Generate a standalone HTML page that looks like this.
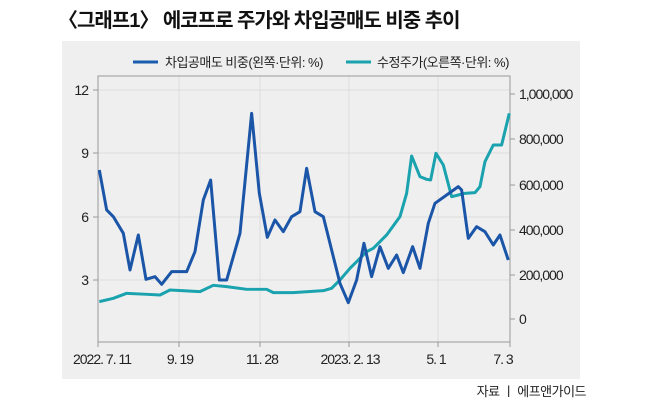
<!DOCTYPE html>
<html><head><meta charset="utf-8"><style>
body{margin:0;background:#fff;width:650px;height:401px;overflow:hidden;font-family:"Liberation Sans","Noto Sans CJK KR",sans-serif}
</style></head><body>
<svg width="650" height="401" xmlns="http://www.w3.org/2000/svg" style="position:absolute;left:0;top:0;font-family:'Liberation Sans','Noto Sans CJK KR',sans-serif">
<text x="58" y="27" font-size="20" font-weight="bold" fill="#111" letter-spacing="-1">〈그래프1〉 에코프로 주가와 차입공매도 비중 추이</text>
<rect x="62" y="41" width="518" height="338" fill="#efefef"/>
<line x1="133" y1="62" x2="158" y2="62" stroke="#1a5cae" stroke-width="3"/>
<text x="165" y="67" font-size="13" fill="#222" letter-spacing="-0.5">차입공매도 비중(왼쪽·단위: %)</text>
<line x1="346" y1="62" x2="371" y2="62" stroke="#1aa3ae" stroke-width="3"/>
<text x="377" y="67" font-size="13" fill="#222" letter-spacing="-0.5">수정주가(오른쪽·단위: %)</text>
<g stroke="#dcdcdc" stroke-width="1">
<line x1="98" y1="90" x2="510" y2="90"/><line x1="98" y1="153" x2="510" y2="153"/><line x1="98" y1="217" x2="510" y2="217"/><line x1="98" y1="280" x2="510" y2="280"/>
<line x1="179" y1="76" x2="179" y2="342"/><line x1="260" y1="76" x2="260" y2="342"/><line x1="349" y1="76" x2="349" y2="342"/><line x1="438" y1="76" x2="438" y2="342"/>
</g>
<rect x="98" y="76" width="412" height="266" fill="none" stroke="#999" stroke-width="1"/>
<g stroke="#999"><line x1="93" y1="90" x2="98" y2="90"/><line x1="93" y1="153" x2="98" y2="153"/><line x1="93" y1="217" x2="98" y2="217"/><line x1="93" y1="280" x2="98" y2="280"/>
<line x1="510" y1="94" x2="515" y2="94"/><line x1="510" y1="139" x2="515" y2="139"/><line x1="510" y1="185" x2="515" y2="185"/><line x1="510" y1="230" x2="515" y2="230"/><line x1="510" y1="275" x2="515" y2="275"/><line x1="510" y1="319" x2="515" y2="319"/>
<line x1="98" y1="342" x2="98" y2="347"/><line x1="179" y1="342" x2="179" y2="347"/><line x1="260" y1="342" x2="260" y2="347"/><line x1="349" y1="342" x2="349" y2="347"/><line x1="438" y1="342" x2="438" y2="347"/><line x1="510" y1="342" x2="510" y2="347"/></g>
<g font-size="14" fill="#222" letter-spacing="-1" text-anchor="end">
<text x="88" y="95">12</text><text x="88" y="158">9</text><text x="88" y="222">6</text><text x="88" y="285">3</text></g>
<g font-size="14" fill="#222" letter-spacing="-1">
<text x="519" y="99">1,000,000</text><text x="519" y="144">800,000</text><text x="519" y="190">600,000</text><text x="519" y="235">400,000</text><text x="519" y="280">200,000</text><text x="519" y="324">0</text></g>
<g font-size="14" fill="#222" letter-spacing="-1" text-anchor="middle">
<text x="102" y="364">2022. 7. 11</text><text x="180" y="364">9. 19</text><text x="262" y="364">11. 28</text><text x="350" y="364">2023. 2. 13</text><text x="436" y="364">5. 1</text><text x="503" y="364">7. 3</text></g>
<text x="586" y="396" font-size="13" fill="#222" text-anchor="end" letter-spacing="-0.5">자료 ㅣ 에프앤가이드</text>
<g transform="translate(60,80) scale(0.3333)" fill="none" stroke-width="9" stroke-linejoin="round">
<polyline stroke="#1aa3ae" points="118,665 160,655 200,640 260,643 300,645 330,630 420,635 460,616 500,620 560,628 620,628 640,638 700,638 790,632 815,625 840,600 870,565 920,515 940,505 980,465 1020,410 1040,340 1055,228 1080,290 1100,298 1112,300 1128,220 1150,255 1175,350 1195,345 1215,340 1245,338 1260,320 1275,245 1300,195 1325,195 1348,100"/>
<polyline stroke="#1a55a8" points="118,270 140,390 160,410 190,460 210,570 235,465 258,598 285,590 305,613 335,575 380,575 405,515 430,360 452,300 478,600 500,600 540,460 575,100 598,340 622,472 645,420 670,455 695,410 720,395 740,265 765,395 790,410 840,610 865,668 890,600 912,490 935,590 960,500 985,565 1010,525 1030,578 1058,500 1080,565 1105,430 1125,370 1160,345 1195,320 1205,330 1225,475 1250,440 1275,455 1300,495 1320,465 1345,540"/>
</g>
</svg>
</body></html>
